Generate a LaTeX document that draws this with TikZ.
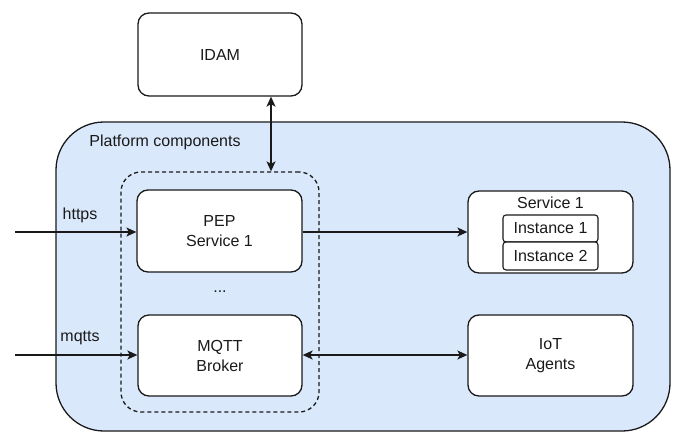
\documentclass[tikz,border=0pt]{standalone}
\usepackage{fontspec}
\setmainfont{Liberation Sans}
\usetikzlibrary{arrows.meta}
\definecolor{panelblue}{HTML}{DAE8FC}
\definecolor{ink}{HTML}{1A1A1A}
\begin{document}
\begin{tikzpicture}[x=1pt,y=-1pt,
  every node/.style={font=\fontsize{16}{20}\selectfont, text=ink},
  box/.style={draw=ink, line width=1.3pt, fill=white, rounded corners=11pt,
    align=center, inner sep=0pt},
  inst/.style={draw=ink, line width=1.1pt, fill=white, rounded corners=3pt,
    minimum width=95pt, inner sep=0pt},
  panel/.style={draw=ink, line width=1.3pt, fill=panelblue, rounded corners=48pt,
    inner sep=0pt},
  group/.style={draw=ink, line width=1.3pt, dashed, dash pattern=on 4pt off 3pt,
    rounded corners=20pt, inner sep=0pt},
  conn/.style={draw=ink, line width=1.3pt, -{Stealth[length=10pt,width=9pt,inset=2.5pt]}},
  biconn/.style={draw=ink, line width=1.3pt,
    {Stealth[length=10pt,width=9pt,inset=2.5pt]}-{Stealth[length=10pt,width=9pt,inset=2.5pt]}},
  lbl/.style={inner sep=0pt}
]
\useasboundingbox (0,0) rectangle (676,433);

% outer container
\node[panel, minimum width=614pt, minimum height=309pt] (platform) at (363,276.5) {};
\node[lbl] (platlbl) at (165,142) {Platform components};

% identity manager
\node[box, minimum width=164pt, minimum height=83pt] (idam) at (220,54.5) {IDAM};

% dashed gateway group
\node[group, minimum width=198pt, minimum height=240pt] (gate) at (220,292) {};
\node[box, minimum width=165pt, minimum height=82pt] (pep) at (219.5,231) {PEP\\Service 1};
\node[lbl] (dots) at (220,292) {...};
\node[box, minimum width=164pt, minimum height=81pt] (mqtt) at (220,355.5) {MQTT\\Broker};

% backend services
\node[box, minimum width=165pt, minimum height=82pt] (svc) at (550.5,232) {};
\node[lbl] (svclbl) at (550.5,202.5) {Service 1};
\node[inst, minimum height=27pt] (inst1) at (550.5,228.5) {Instance 1};
\node[inst, minimum height=28pt] (inst2) at (550.5,256) {Instance 2};
\node[box, minimum width=165pt, minimum height=81pt] (iot) at (550.5,355.5) {IoT\\Agents};

% incoming traffic
\coordinate (inhttps) at (15,232);
\coordinate (inmqtt) at (15,355);
\draw[conn] (inhttps) -- (inhttps -| pep.west);
\draw[conn] (inmqtt) -- (inmqtt -| mqtt.west);
\node[lbl] (httpslbl) at (80,215) {https};
\node[lbl] (mqttslbl) at (80,338) {mqtts};

% internal links
\draw[conn] (pep.east |- inhttps) -- (svc.west |- inhttps);
\draw[biconn] (mqtt.east |- inmqtt) -- (iot.west |- inmqtt);
\coordinate (authx) at (271,0);
\draw[biconn] (idam.south -| authx) -- (gate.north -| authx);
\end{tikzpicture}
\end{document}
